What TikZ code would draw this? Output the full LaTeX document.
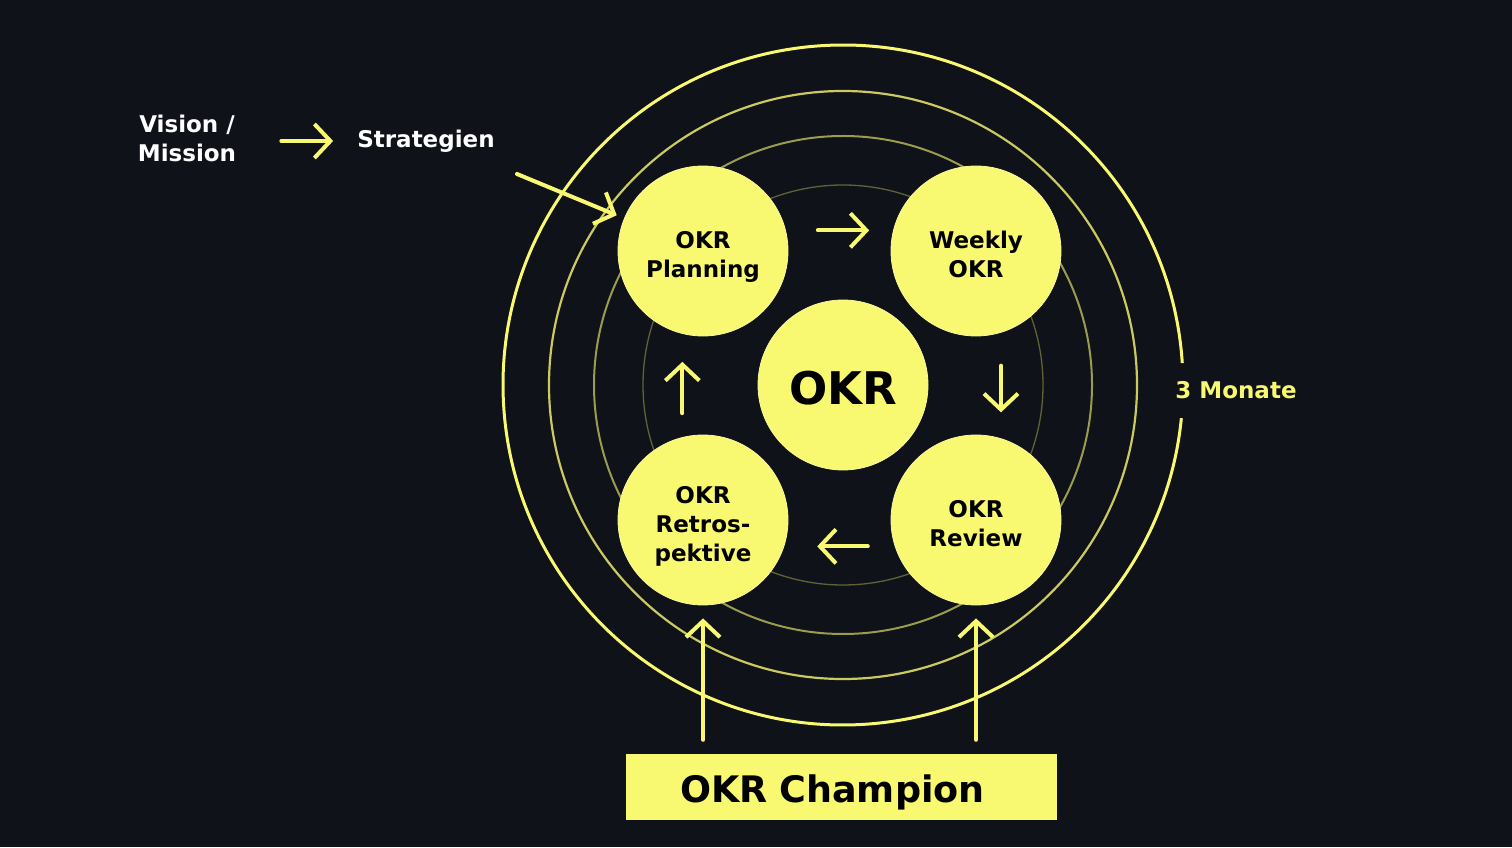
\documentclass[tikz,border=0pt]{standalone}
\usepackage{fontspec}
\setmainfont{DejaVu Sans}
\usetikzlibrary{arrows.meta,calc}
\definecolor{okrbg}{HTML}{0F1218}
\definecolor{okryellow}{HTML}{F9F871}

\begin{document}
\begin{tikzpicture}[x=1pt,y=1pt,
    phase/.style={circle,fill=okryellow,draw=okryellow!70!white,line width=0.8pt,minimum size=170pt,inner sep=0pt,align=center,text=black,text height=53pt,text depth=0pt,font=\fontsize{23}{29}\selectfont\bfseries},
    txt/.style={inner sep=0pt,align=center,text=white,font=\fontsize{23}{29}\selectfont\bfseries},
    flow/.style={draw=okryellow,line width=4pt,line cap=round,-{Straight Barb[length=16pt,width=34pt]}}]

    % Background
    \fill[okrbg] (0,0) rectangle (1512,847);

    % Rings
    \draw[okryellow,line width=3pt] (843,462) ++(3.7:340) arc[start angle=3.7,end angle=354.4,radius=340];
    \draw[okryellow!80!okrbg,line width=2.2pt] (843,462) circle[radius=294];
    \draw[okryellow!60!okrbg,line width=2pt] (843,462) circle[radius=249];
    \draw[okryellow!35!okrbg,line width=1.3pt] (843,462) circle[radius=200];

    % Phases
    \node[phase] (plan) at (703,596) {OKR\\Planning};
    \node[phase] (weekly) at (976,596) {Weekly\\OKR};
    \node[phase] (review) at (976,327) {OKR\\Review};
    \node[phase,text height=83pt] (retro) at (703,327) {OKR\\Retros-\\pektive};
    \node[phase,text height=39pt,font=\fontsize{45}{54}\selectfont\bfseries] (okr) at (843,462) {OKR};

    % Labels
    \node[txt] (vision) at (187,709) {Vision /\\Mission};
    \node[txt] (strat) at (426,706) {Strategien};
    \node[txt,text=okryellow] (monate) at (1236,457) {3 Monate};
    \node[fill=okryellow,text=black,inner xsep=54pt,inner ysep=0pt,text width=323pt,text height=30pt,text depth=0pt,minimum height=66pt,align=left,font=\fontsize{36.5}{43}\selectfont\bfseries] (champ) at (841.5,60) {OKR Champion};
    \coordinate (feed) at (517,673);

    % Flow
    \draw[flow,shorten <=45pt,shorten >=24pt] (vision.east |- strat) -- (strat);
    \draw[flow,shorten >=8pt] (feed) -- (plan);
    \draw[flow,shorten <=32pt,shorten >=24pt] (plan.14) -- (weekly.166);
    \draw[flow,shorten <=33pt,shorten >=26pt] (weekly.-73) -- (review.73);
    \draw[flow,shorten <=27pt,shorten >=33pt] (review.198) -- (retro.-18);
    \draw[flow,shorten <=24pt,shorten >=28pt] (retro.104) -- (plan.256);
    \draw[flow,shorten <=14pt,shorten >=13pt] (champ.north -| retro.south) -- (retro.south);
    \draw[flow,shorten <=14pt,shorten >=13pt] (champ.north -| review.south) -- (review.south);

\end{tikzpicture}
\end{document}
